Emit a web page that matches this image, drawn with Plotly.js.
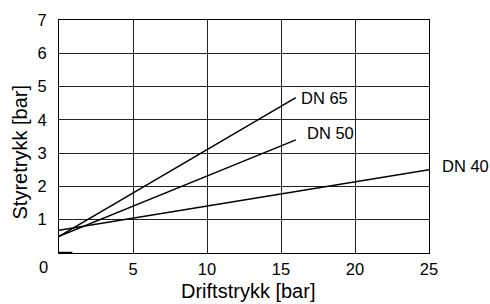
<!DOCTYPE html>
<html>
<head>
<meta charset="utf-8">
<script src="https://cdn.plot.ly/plotly-3.0.1.min.js"></script>
<style>html,body{margin:0;padding:0;background:#fff;}#chart{width:490px;height:304px;}</style>
</head>
<body>
<div id="chart"></div>
<script>
const seriesNames = ["DN 65", "DN 50", "DN 40"];
const seriesX = [[0, 16], [0, 16], [0, 25]];
const seriesY = [[0.5, 4.67], [0.5, 3.4], [0.68, 2.5]];
const labelShift = [[3, 0], [9, 7], [11, 4]];
const xTicks = [5, 10, 15, 20, 25];
const yTicks = [1, 2, 3, 4, 5, 6, 7];
const originSegX = [0, 0.9];
const originSegY = [0, 0];
const xTitle = "Driftstrykk [bar]";
const yTitle = "Styretrykk [bar]";

const font = "Liberation Sans, Arial, sans-serif";
const traces = seriesNames.map((n, i) => ({
  x: seriesX[i], y: seriesY[i], mode: "lines", name: n,
  line: {color: "#000", width: 1.5}, hoverinfo: "skip"
}));
traces.push({x: originSegX, y: originSegY, mode: "lines", line: {color: "#000", width: 2.5}, hoverinfo: "skip"});

const annotations = seriesNames.map((n, i) => ({
  x: seriesX[i][1], y: seriesY[i][1], xref: "x", yref: "y", text: n,
  showarrow: false, xanchor: "left", yanchor: "middle",
  xshift: labelShift[i][0], yshift: labelShift[i][1],
  font: {family: font, size: 16.5, color: "#000"}
}));
annotations.push({x: 0, y: 0, xref: "paper", yref: "paper", text: "0", showarrow: false,
  xanchor: "center", yanchor: "middle", xshift: -16, yshift: -14,
  font: {family: font, size: 16.5, color: "#000"}});
annotations.push({x: 0.5, y: 0, xref: "paper", yref: "paper", text: xTitle, showarrow: false,
  xanchor: "center", yanchor: "middle", xshift: 4, yshift: -38,
  font: {family: font, size: 20, color: "#000"}});
annotations.push({x: 0, y: 0.5, xref: "paper", yref: "paper", text: yTitle, showarrow: false,
  textangle: -90, xanchor: "center", yanchor: "middle", xshift: -40, yshift: -16,
  font: {family: font, size: 20, color: "#000"}});

const layout = {
  width: 490, height: 304,
  margin: {l: 59.3, r: 60.7, t: 20, b: 50.7},
  paper_bgcolor: "#fff", plot_bgcolor: "#fff",
  showlegend: false,
  xaxis: {range: [0, 25], tickvals: xTicks, showgrid: true, gridcolor: "#222", gridwidth: 1,
    zeroline: false, showline: true, linecolor: "#000", linewidth: 1, mirror: true,
    ticks: "outside", ticklen: 1, tickcolor: "rgba(0,0,0,0)",
    tickfont: {family: font, size: 16.5, color: "#000"}, fixedrange: true},
  yaxis: {range: [0, 7], tickvals: yTicks, showgrid: true, gridcolor: "#222", gridwidth: 1,
    zeroline: false, showline: true, linecolor: "#000", linewidth: 1, mirror: true,
    ticks: "outside", ticklen: 8, tickcolor: "rgba(0,0,0,0)",
    tickfont: {family: font, size: 16.5, color: "#000"}, fixedrange: true},
  annotations: annotations
};
Plotly.newPlot("chart", traces, layout, {displayModeBar: false, staticPlot: true});
</script>
</body>
</html>
